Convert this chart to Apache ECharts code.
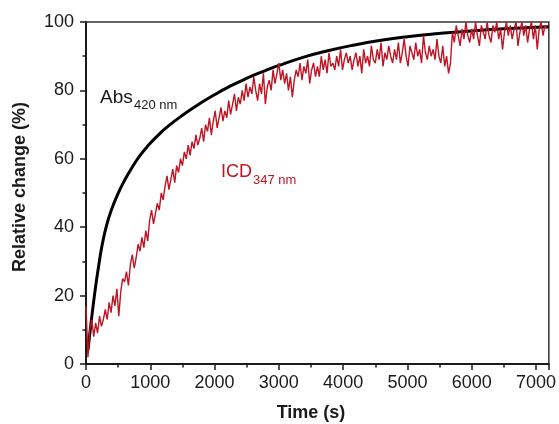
<!DOCTYPE html>
<html lang="en">
<head>
    <meta charset="UTF-8">
    <title>Relative change</title>
    <script src="https://cdn.jsdelivr.net/npm/echarts@6/dist/echarts.min.js"></script>
    <style>
        body { margin: 0; background: #fff; }
        #main { width: 559px; height: 424px; }
    </style>
</head>
<body>
    <div id="main"></div>
    <script>
        // Abs 420 nm (smooth black curve): time (s), value (%)
        const absTime = [30, 60, 93, 150, 200, 248, 320, 400, 500, 600, 714, 850, 973, 1100, 1250, 1490, 1750, 1977, 2250, 2495, 2750, 3000, 3400, 3760, 4150, 4540, 5000, 5400, 5790, 6500, 7200]
        const absValue = [4, 9, 14.3, 22.7, 29, 34.5, 40.5, 45.3, 49.9, 53.7, 57.4, 61.2, 64, 66.5, 69.1, 72.6, 75.9, 78.5, 81.3, 83.5, 85.5, 87.3, 89.8, 91.6, 93.2, 94.5, 95.7, 96.5, 97.1, 98, 98.6]

        // ICD 347 nm (noisy red trace), one reading every 30 s from t = 0
        const icdStep = 30
        const icdValue = [
            17, 2, 10, 13, 8, 12, 9, 14, 11, 13,
            16, 13, 18, 15, 20, 17, 22, 14, 21, 25,
            24, 27, 23, 29, 32, 28, 31, 35, 33, 37,
            34, 39, 36, 42, 45, 41, 44, 47, 45, 50,
            48, 52, 55, 51, 54, 57, 53, 58, 56, 60,
            58, 62, 60, 64, 61, 65, 63, 67, 64, 66,
            69, 65, 70, 68, 72, 67, 71, 74, 69, 72,
            75, 71, 74, 72, 77, 73, 76, 79, 74, 78,
            76, 80, 77, 82, 78, 81, 79, 84, 80, 77,
            82, 79, 85, 76, 81, 83, 80, 86, 82, 85,
            88, 83, 86, 82, 85, 80, 84, 78, 83, 86,
            84, 88, 83, 87, 85, 89, 82, 86, 88, 84,
            87, 84, 90, 86, 89, 85, 91, 87, 88, 86,
            90, 87, 92, 86, 89, 91, 88, 90, 86, 89,
            91, 87, 90, 85, 92, 88, 90, 87, 93, 89,
            88, 92, 89, 94, 87, 91, 89, 93, 90, 88,
            92, 89, 94, 88, 91, 95, 90, 87, 93, 91,
            89, 94, 90, 92, 88, 96, 91, 89, 93, 90,
            92, 89, 95, 90, 88, 93, 87, 90, 85, 88,
            97, 94, 99, 96, 93, 98, 95, 100, 96, 94,
            98, 95, 100, 96, 93, 99, 97, 95, 100, 96,
            94, 99, 97, 100, 95, 98, 92, 97, 100, 96,
            99, 95, 98, 100, 93, 97, 100, 96, 99, 94,
            98, 100, 95, 99, 92, 98, 100, 96, 99, 98
        ]

        const xTicks = [0, 1000, 2000, 3000, 4000, 5000, 6000, 7000]
        const yTicks = [0, 20, 40, 60, 80, 100]

        const font = '"Liberation Sans", Arial, sans-serif'
        const ink = '#1a1a1a'
        const red = '#c01424'

        const absData = absTime.map((t, i) => [t, absValue[i]])
        const icdData = icdValue.map((v, i) => [i * icdStep, v])

        const chart = echarts.init(document.querySelector('#main'))

        const option = {
            animation: false,
            grid: {
                left: 86, right: 10, top: 22, bottom: 60,
                show: true, borderColor: '#333', borderWidth: 1.5
            },
            xAxis: {
                type: 'value',
                min: 0, max: 7200, interval: 1000,
                axisLine: { show: true, lineStyle: { color: ink, width: 2 } },
                axisTick: { show: true, length: 6, lineStyle: { color: ink, width: 1.5 } },
                minorTick: { show: true, splitNumber: 2, length: 3.5, lineStyle: { color: ink, width: 1.5 } },
                splitLine: { show: false },
                axisLabel: {
                    showMaxLabel: false,
                    color: ink, fontSize: 18, fontFamily: font, margin: 10,
                    formatter: (v) => xTicks.includes(v) ? String(v) : ''
                }
            },
            yAxis: {
                type: 'value',
                min: 0, max: 100, interval: 20,
                axisLine: { show: true, lineStyle: { color: ink, width: 2 } },
                axisTick: { show: true, length: 6, lineStyle: { color: ink, width: 1.5 } },
                minorTick: { show: true, splitNumber: 2, length: 3.5, lineStyle: { color: ink, width: 1.5 } },
                splitLine: { show: false },
                axisLabel: {
                    color: ink, fontSize: 18, fontFamily: font, margin: 12,
                    formatter: (v) => yTicks.includes(v) ? String(v) : ''
                }
            },
            series: [
                {
                    name: 'Abs 420 nm',
                    type: 'line',
                    data: absData,
                    smooth: 0.5,
                    showSymbol: false,
                    lineStyle: { color: '#000', width: 3 }
                },
                {
                    name: 'ICD 347 nm',
                    type: 'line',
                    data: icdData,
                    showSymbol: false,
                    lineStyle: { color: red, width: 1.4 }
                }
            ],
            graphic: [
                { type: 'text', x: 100, y: 88, style: { text: 'Abs', font: `19px ${font}`, fill: ink } },
                { type: 'text', x: 134, y: 99, style: { text: '420 nm', font: `13px ${font}`, fill: ink } },
                { type: 'text', x: 221, y: 163, style: { text: 'ICD', font: `18px ${font}`, fill: red } },
                { type: 'text', x: 253, y: 174, style: { text: '347 nm', font: `13px ${font}`, fill: red } },
                {
                    type: 'text', x: 311, y: 413,
                    style: { text: 'Time (s)', font: `bold 18px ${font}`, fill: ink, align: 'center', verticalAlign: 'middle' }
                },
                {
                    type: 'text', x: 20, y: 187, rotation: Math.PI / 2,
                    style: { text: 'Relative change (%)', font: `bold 18px ${font}`, fill: ink, align: 'center', verticalAlign: 'middle' }
                }
            ]
        }

        chart.setOption(option)
    </script>
</body>
</html>
